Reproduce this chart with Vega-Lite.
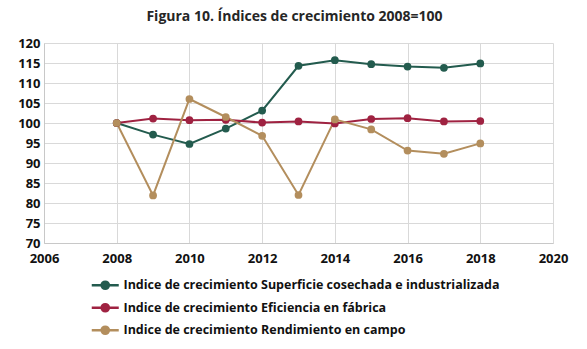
{
  "$schema": "https://vega.github.io/schema/vega-lite/v6.json",
  "width": 509,
  "height": 200,
  "autosize": "none",
  "padding": {"left": 44, "top": 43, "right": 34, "bottom": 106},
  "background": "white",
  "title": {
    "text": "Figura 10. Índices de crecimiento 2008=100",
    "font": "Open Sans",
    "fontSize": 14,
    "fontWeight": "bold",
    "color": "#262626",
    "anchor": "middle",
    "offset": 13,
    "dx": -4
  },
  "data": {
    "values": [
      {"year": 2008, "serie": "Indice de crecimiento Superficie cosechada e industrializada", "v": 100},
      {"year": 2009, "serie": "Indice de crecimiento Superficie cosechada e industrializada", "v": 97.1},
      {"year": 2010, "serie": "Indice de crecimiento Superficie cosechada e industrializada", "v": 94.75},
      {"year": 2011, "serie": "Indice de crecimiento Superficie cosechada e industrializada", "v": 98.6},
      {"year": 2012, "serie": "Indice de crecimiento Superficie cosechada e industrializada", "v": 103.1},
      {"year": 2013, "serie": "Indice de crecimiento Superficie cosechada e industrializada", "v": 114.3},
      {"year": 2014, "serie": "Indice de crecimiento Superficie cosechada e industrializada", "v": 115.7},
      {"year": 2015, "serie": "Indice de crecimiento Superficie cosechada e industrializada", "v": 114.7},
      {"year": 2016, "serie": "Indice de crecimiento Superficie cosechada e industrializada", "v": 114.1},
      {"year": 2017, "serie": "Indice de crecimiento Superficie cosechada e industrializada", "v": 113.8},
      {"year": 2018, "serie": "Indice de crecimiento Superficie cosechada e industrializada", "v": 114.9},
      {"year": 2008, "serie": "Indice de crecimiento Eficiencia en fábrica", "v": 100},
      {"year": 2009, "serie": "Indice de crecimiento Eficiencia en fábrica", "v": 101.1},
      {"year": 2010, "serie": "Indice de crecimiento Eficiencia en fábrica", "v": 100.7},
      {"year": 2011, "serie": "Indice de crecimiento Eficiencia en fábrica", "v": 100.8},
      {"year": 2012, "serie": "Indice de crecimiento Eficiencia en fábrica", "v": 100.1},
      {"year": 2013, "serie": "Indice de crecimiento Eficiencia en fábrica", "v": 100.4},
      {"year": 2014, "serie": "Indice de crecimiento Eficiencia en fábrica", "v": 99.9},
      {"year": 2015, "serie": "Indice de crecimiento Eficiencia en fábrica", "v": 101.0},
      {"year": 2016, "serie": "Indice de crecimiento Eficiencia en fábrica", "v": 101.2},
      {"year": 2017, "serie": "Indice de crecimiento Eficiencia en fábrica", "v": 100.4},
      {"year": 2018, "serie": "Indice de crecimiento Eficiencia en fábrica", "v": 100.5},
      {"year": 2008, "serie": "Indice de crecimiento Rendimiento en campo", "v": 100},
      {"year": 2009, "serie": "Indice de crecimiento Rendimiento en campo", "v": 81.9},
      {"year": 2010, "serie": "Indice de crecimiento Rendimiento en campo", "v": 106.0},
      {"year": 2011, "serie": "Indice de crecimiento Rendimiento en campo", "v": 101.5},
      {"year": 2012, "serie": "Indice de crecimiento Rendimiento en campo", "v": 96.8},
      {"year": 2013, "serie": "Indice de crecimiento Rendimiento en campo", "v": 82.0},
      {"year": 2014, "serie": "Indice de crecimiento Rendimiento en campo", "v": 100.9},
      {"year": 2015, "serie": "Indice de crecimiento Rendimiento en campo", "v": 98.4},
      {"year": 2016, "serie": "Indice de crecimiento Rendimiento en campo", "v": 93.1},
      {"year": 2017, "serie": "Indice de crecimiento Rendimiento en campo", "v": 92.3},
      {"year": 2018, "serie": "Indice de crecimiento Rendimiento en campo", "v": 94.9}
    ]
  },
  "encoding": {
    "x": {
      "field": "year", "type": "quantitative",
      "scale": {"domain": [2006, 2020], "nice": false, "zero": false},
      "axis": {"title": null, "values": [2006, 2008, 2010, 2012, 2014, 2016, 2018, 2020], "format": "d",
        "labelFont": "Open Sans", "labelFontSize": 13, "labelFontWeight": "bold", "labelColor": "#111",
        "labelPadding": 9, "ticks": false, "domainColor": "#c8c8c8", "gridColor": "#d9d9d9", "labelFlush": false}
    },
    "y": {
      "field": "v", "type": "quantitative",
      "scale": {"domain": [70, 120], "nice": false, "zero": false},
      "axis": {"title": null, "values": [70, 75, 80, 85, 90, 95, 100, 105, 110, 115, 120],
        "labelFont": "Open Sans", "labelFontSize": 13, "labelFontWeight": "bold", "labelColor": "#111",
        "labelPadding": 4, "ticks": false, "domainColor": "#c8c8c8", "gridColor": "#d9d9d9"}
    },
    "color": {
      "field": "serie", "type": "nominal",
      "scale": {
        "domain": ["Indice de crecimiento Superficie cosechada e industrializada", "Indice de crecimiento Eficiencia en fábrica", "Indice de crecimiento Rendimiento en campo"],
        "range": ["#235B4E", "#9F2241", "#B38E5D"]
      },
      "legend": {
        "title": null, "orient": "none", "legendX": 55, "legendY": 236, "direction": "vertical",
        "symbolType": "M-3,0L3,0M-0.8,0a0.8,0.8 0 1,0 1.6,0a0.8,0.8 0 1,0 -1.6,0",
        "symbolSize": 81, "symbolStrokeWidth": 2.5, "symbolOpacity": 1,
        "labelFont": "Open Sans", "labelFontSize": 12.5, "labelFontWeight": "bold", "labelColor": "#111",
        "rowPadding": 4.5, "labelOffset": 12, "labelLimit": 500
      }
    }
  },
  "layer": [
    {"mark": {"type": "line", "strokeWidth": 2}},
    {"mark": {"type": "circle", "size": 60, "opacity": 1}}
  ],
  "config": {"view": {"stroke": null}}
}
